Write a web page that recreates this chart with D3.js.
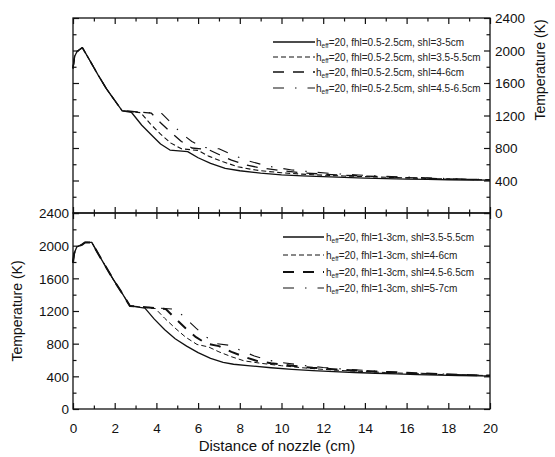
<!DOCTYPE html>
<html>
<head>
<meta charset="utf-8">
<script src="https://cdn.jsdelivr.net/npm/d3@7"></script>
<style>
  body { margin: 0; background: #fff; }
  svg { display: block; }
  .tick text { font-family: Arial, "Liberation Sans", sans-serif; font-size: 13.5px; fill: #111; }
  .title { font-family: Arial, "Liberation Sans", sans-serif; font-size: 14px; fill: #111; }
  .leg { font-family: "Liberation Sans Narrow", "Arial Narrow", "Liberation Sans", sans-serif; font-size: 10px; fill: #222; }
</style>
</head>
<body>
<svg id="chart" width="555" height="457"></svg>
<script>
// x ticks (cm) and temperature ticks (K)
var xTicks = [0, 2, 4, 6, 8, 10, 12, 14, 16, 18, 20];
var tTicks = [0, 400, 800, 1200, 1600, 2000, 2400];

// top panel: fhl = 0.5-2.5cm
var topHead = [[0,1780],[0.08,1930],[0.2,1990],[0.45,2035],[0.8,1880],[1.2,1700],[1.6,1530],[2.0,1385],[2.36,1258]];
var topShl35 = [[2.8,1240],[3.3,1080],[3.8,950],[4.2,850],[4.65,775],[5.5,755],[6.0,680],[6.6,610],[7.3,548],[8,520],[9,490],[10,470],[11,458],[12,447],[13,438],[14,430],[15,424],[16,418],[17,413],[18,409],[19,406],[20,404]];
var topShl3555 = [[3.25,1235],[3.7,1100],[4.2,970],[4.7,860],[5.2,790],[6.0,770],[6.5,700],[7.2,630],[7.9,570],[8.5,540],[9,520],[10,495],[11,478],[12,465],[13,455],[14,448],[15,440],[16,432],[17,425],[18,418],[19,412],[20,408]];
var topShl46 = [[3.75,1230],[4.2,1110],[4.7,990],[5.2,880],[5.7,800],[6.5,780],[7,720],[7.6,650],[8.3,590],[9,555],[10,520],[11,495],[12,478],[13,465],[14,455],[15,445],[16,436],[17,428],[18,420],[19,414],[20,410]];
var topShl4565 = [[4.25,1225],[4.7,1110],[5.2,980],[5.7,880],[6.2,810],[7.0,790],[7.6,720],[8.3,650],[9.0,600],[9.6,565],[10.5,530],[11.5,505],[12.5,485],[13.5,470],[14.5,458],[15.5,447],[16.5,437],[17.5,428],[18.5,420],[19.5,414],[20,412]];
var topLabels = ["shl=3-5cm", "shl=3.5-5.5cm", "shl=4-6cm", "shl=4.5-6.5cm"];

// bottom panel: fhl = 1-3cm
var botHead = [[0,1790],[0.05,1900],[0.18,1985],[0.42,2010],[0.58,2040],[0.9,2040],[1.3,1860],[1.9,1600],[2.3,1440],[2.73,1262]];
var botShl3555 = [[3.45,1235],[3.9,1100],[4.4,970],[4.9,860],[5.45,770],[6.0,690],[6.6,620],[7.2,570],[7.7,548],[8.5,528],[9.5,505],[10.5,485],[11.5,470],[12.5,458],[13.5,447],[14.5,438],[15.5,430],[16.5,422],[17.5,415],[18.5,410],[19.5,406],[20,404]];
var botShl46 = [[3.95,1230],[4.4,1110],[4.9,990],[5.4,880],[5.95,790],[6.5,760],[7.0,700],[7.6,640],[8.2,590],[9,560],[10,530],[11,505],[12,485],[13,470],[14,458],[15,447],[16,437],[17,428],[18,420],[19,414],[20,410]];
var botShl4565 = [[4.45,1225],[4.9,1110],[5.4,990],[5.9,880],[6.4,800],[7.0,770],[7.6,700],[8.2,640],[8.8,590],[9.5,560],[10.5,530],[11.5,505],[12.5,488],[13.5,472],[14.5,460],[15.5,448],[16.5,438],[17.5,428],[18.5,420],[19.5,413],[20,410]];
var botShl57 = [[4.95,1220],[5.4,1110],[5.9,990],[6.4,880],[6.9,800],[7.5,780],[8.1,710],[8.7,650],[9.3,600],[10,570],[11,535],[12,508],[13,488],[14,472],[15,458],[16,446],[17,435],[18,425],[19,417],[20,412]];
var botLabels = ["shl=3.5-5.5cm", "shl=4-6cm", "shl=4.5-6.5cm", "shl=5-7cm"];

// line styles: solid, short dash, long dash, dash-dot
var dashes = [null, "5,3", "11,9", "11,11,1.5,11"];
var widths = [1.3, 1.1, 1.3, 1.1];
var botWidths = [1.3, 1.0, 2.0, 1.1];

var svg = d3.select("#chart");
var L = 73, R = 490;
var x = d3.scaleLinear().domain([0, 20]).range([L, R]);

function panel(top, bottom, series, fhl, labels, lw, leftLabels, legX, legY) {
  var y = d3.scaleLinear().domain([0, 2400]).range([bottom, top]);
  var g = svg.append("g");

  // ticks inward on all four sides
  var minorX = d3.range(0, 21, 1), minorY = d3.range(0, 2401, 200);
  function ax(axis, tr) {
    var a = g.append("g").attr("transform", tr).call(axis);
    a.select(".domain").remove();
    a.selectAll(".tick line").attr("stroke", "#111").attr("stroke-width", 1.2);
    return a;
  }
  [[d3.axisBottom, bottom, -1], [d3.axisTop, top, 1]].forEach(function (s) {
    ax(s[0](x).tickValues(minorX).tickSize(0).tickFormat(""), "translate(0," + s[1] + ")")
      .selectAll(".tick line").attr("y2", function (d) { return s[2] * (d % 2 === 0 ? 6 : 3.5); });
  });
  [[d3.axisLeft, L, 1], [d3.axisRight, R, -1]].forEach(function (s) {
    ax(s[0](y).tickValues(minorY).tickSize(0).tickFormat(""), "translate(" + s[1] + ",0)")
      .selectAll(".tick line").attr("x2", function (d) { return s[2] * (d % 400 === 0 ? 6 : 3.5); });
  });

  // tick labels
  var fmt = d3.format("d");
  var lab = leftLabels
    ? g.append("g").attr("transform", "translate(" + (L - 4) + ",0)").call(d3.axisLeft(y).tickValues(tTicks).tickFormat(fmt).tickSize(0).tickPadding(0))
    : g.append("g").attr("transform", "translate(" + (R + 5) + ",0)").call(d3.axisRight(y).tickValues(tTicks).tickFormat(fmt).tickSize(0).tickPadding(0));
  lab.select(".domain").remove();
  lab.selectAll("text").attr("dy", "0.35em");

  g.append("rect").attr("x", L).attr("y", top).attr("width", R - L).attr("height", bottom - top)
    .attr("fill", "none").attr("stroke", "#111").attr("stroke-width", 1.3);

  var line = d3.line().x(function (d) { return x(d[0]); }).y(function (d) { return y(d[1]); });
  series.forEach(function (s, i) {
    g.append("path").datum(s).attr("d", line).attr("fill", "none").attr("stroke", "#111")
      .attr("stroke-width", lw[i]).attr("stroke-dasharray", dashes[i]).attr("stroke-linejoin", "round");
  });

  // legend
  labels.forEach(function (t, i) {
    var yy = legY[i];
    g.append("line").attr("x1", legX[0]).attr("x2", legX[1]).attr("y1", yy).attr("y2", yy)
      .attr("stroke", "#111").attr("stroke-width", lw[i]).attr("stroke-dasharray", dashes[i]);
    var tx = g.append("text").attr("class", "leg").attr("x", legX[2]).attr("y", yy).attr("dy", "0.35em");
    tx.append("tspan").text("h");
    tx.append("tspan").attr("dy", "2.5").attr("font-size", "6.5px").text("eff");
    tx.append("tspan").attr("dy", "-2.5").text("=20, fhl=" + fhl + ", " + t);
  });
}

function withHead(head, tails) {
  return tails.map(function (t) { return head.concat(t); });
}

panel(18, 213, withHead(topHead, [topShl35, topShl3555, topShl46, topShl4565]), "0.5-2.5cm", topLabels, widths, false,
  [273, 315, 316], [42, 57, 72, 88]);
panel(213, 409, withHead(botHead, [botShl3555, botShl46, botShl4565, botShl57]), "1-3cm", botLabels, botWidths, true,
  [283, 324, 326], [237, 255, 272, 288]);

// x axis labels
var xl = svg.append("g").attr("transform", "translate(0,423)")
  .call(d3.axisBottom(x).tickValues(xTicks).tickSize(0).tickPadding(0));
xl.select(".domain").remove();

svg.append("text").attr("class", "title").attr("x", 277).attr("y", 451).attr("text-anchor", "middle")
  .style("font-size", "15px").text("Distance of nozzle (cm)");
svg.append("text").attr("class", "title").attr("text-anchor", "middle")
  .attr("transform", "translate(22,311) rotate(-90)").text("Temperature (K)");
svg.append("text").attr("class", "title").attr("text-anchor", "middle")
  .attr("transform", "translate(545,70) rotate(-90)").text("Temperature (K)");
</script>
</body>
</html>
